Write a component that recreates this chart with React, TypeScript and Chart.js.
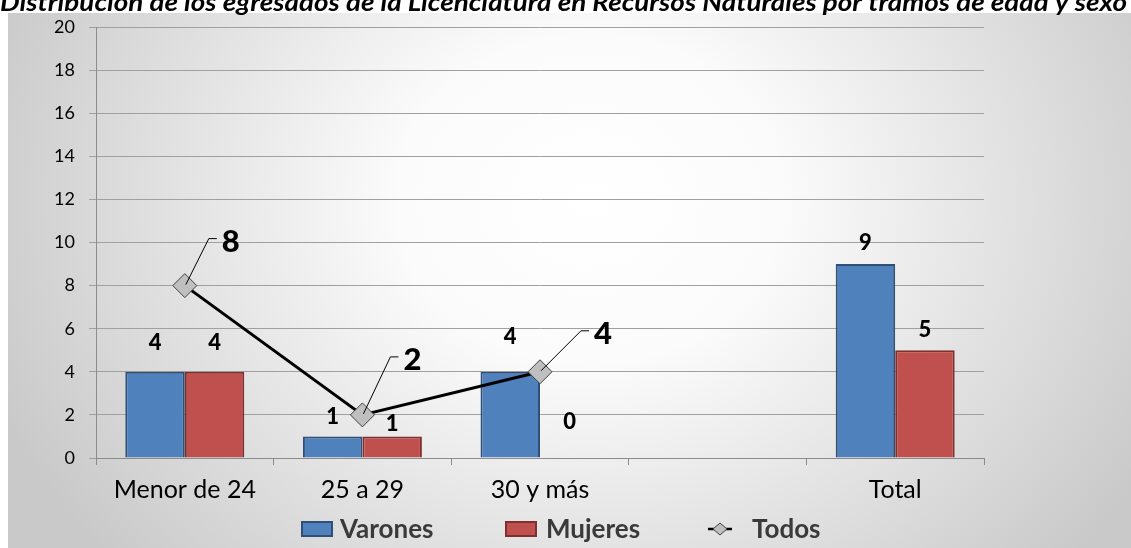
import React, { useEffect, useRef } from "react";
import { Chart, registerables } from "chart.js";

Chart.register(...registerables);

// ---------- data ----------
const chartTitle =
  "Distribución de los egresados de la Licenciatura en Recursos Naturales por tramos de edad y sexo";
const categories = ["Menor de 24", "25 a 29", "30 y más", "", "Total"];
const varones: (number | null)[] = [4, 1, 4, null, 9];
const mujeres: (number | null)[] = [4, 1, 0, null, 5];
const todos: (number | null)[] = [8, 2, 4, null, null];
const seriesNames = ["Varones", "Mujeres", "Todos"];
const yMin = 0;
const yMax = 20;
const yStep = 2;

// ---------- style ----------
const W = 1131;
const H = 548;
const FONT = "Lato, 'Open Sans', sans-serif";
const BLUE = "#4F81BD";
const BLUE_BORDER = "#2F4F77";
const RED = "#C0504D";
const RED_BORDER = "#7F2F2D";
const MARKER_FILL = "#BFBFBF";
const MARKER_BORDER = "#404040";
// label lift above bar tops (px), per category
const varonesLabelLift = [29, 20, 35, 0, 21];
const mujeresLabelLift = [29, 13, 36, 0, 20];
// label offsets for the "Todos" line labels (px from the point)
const todosLabelOffset: [number, number][] = [
  [46, -44],
  [50, -55],
  [63, -38],
];

function drawStretched(
  ctx: CanvasRenderingContext2D,
  text: string,
  x: number,
  y: number,
  sx: number
) {
  ctx.save();
  ctx.translate(x, y);
  ctx.scale(sx, 1);
  ctx.fillText(text, 0, 0);
  ctx.restore();
}

const backgroundPlugin = {
  id: "bgFrame",
  beforeDraw(chart: any) {
    const ctx = chart.ctx as CanvasRenderingContext2D;
    ctx.save();
    ctx.fillStyle = "#FFFFFF";
    ctx.fillRect(0, 0, W, H);
    const fx = 8,
      fy = 13;
    ctx.translate(590, 200);
    ctx.scale(1, 0.85);
    const g = ctx.createRadialGradient(0, 0, 0, 0, 0, 640);
    g.addColorStop(0, "#FFFFFF");
    g.addColorStop(0.3, "#FBFBFB");
    g.addColorStop(1, "#C9C9C9");
    ctx.fillStyle = g;
    ctx.fillRect(fx - 590, (fy - 200) / 0.85, W - fx + 10, (H - fy + 10) / 0.85);
    ctx.restore();

    ctx.save();
    ctx.fillStyle = "#000";
    ctx.font = `italic bold 24px ${FONT}`;
    ctx.textAlign = "left";
    ctx.textBaseline = "alphabetic";
    const w = ctx.measureText(chartTitle).width;
    drawStretched(ctx, chartTitle, 0, 11, 1127 / w);
    ctx.restore();
  },
};

const labelsPlugin = {
  id: "customLabels",
  afterDatasetsDraw(chart: any) {
    const ctx = chart.ctx as CanvasRenderingContext2D;
    ctx.save();
    ctx.fillStyle = "#000";
    ctx.textAlign = "center";
    ctx.textBaseline = "middle";

    // bar labels
    const barSets: [number, (number | null)[], number[]][] = [
      [1, varones, varonesLabelLift],
      [2, mujeres, mujeresLabelLift],
    ];
    ctx.font = `900 22px ${FONT}`;
    barSets.forEach(([dsIndex, values, lift]) => {
      const meta = chart.getDatasetMeta(dsIndex);
      values.forEach((v, i) => {
        if (v === null) return;
        const el = meta.data[i];
        ctx.fillText(String(v), el.x, el.y - lift[i]);
      });
    });

    // line labels with leader lines
    const lineMeta = chart.getDatasetMeta(0);
    todos.forEach((v, i) => {
      if (v === null) return;
      const pt = lineMeta.data[i];
      const [dx, dy] = todosLabelOffset[i];
      const lx = pt.x + dx;
      const ly = pt.y + dy;
      ctx.strokeStyle = "#000";
      ctx.lineWidth = 1;
      ctx.beginPath();
      ctx.moveTo(pt.x + 1, pt.y - 1);
      ctx.lineTo(lx - 22, ly - 3);
      ctx.lineTo(lx - 14, ly - 3);
      ctx.stroke();
      ctx.font = `900 31px ${FONT}`;
      ctx.fillText(String(v), lx, ly);
    });
    ctx.restore();
  },
  afterDraw(chart: any) {
    // legend
    const ctx = chart.ctx as CanvasRenderingContext2D;
    ctx.save();
    const cy = 529;
    ctx.font = `bold 26px ${FONT}`;
    ctx.textBaseline = "middle";
    ctx.textAlign = "left";
    // Varones
    ctx.fillStyle = BLUE;
    ctx.fillRect(302, cy - 7, 30, 14);
    ctx.strokeStyle = BLUE_BORDER;
    ctx.lineWidth = 2;
    ctx.strokeRect(302, cy - 7, 30, 14);
    ctx.fillStyle = "#3A3A3A";
    ctx.fillText(seriesNames[0], 340, cy + 1);
    // Mujeres
    ctx.fillStyle = RED;
    ctx.fillRect(506, cy - 7, 30, 14);
    ctx.strokeStyle = RED_BORDER;
    ctx.strokeRect(506, cy - 7, 30, 14);
    ctx.fillStyle = "#3A3A3A";
    ctx.fillText(seriesNames[1], 546, cy + 1);
    // Todos
    ctx.strokeStyle = "#000";
    ctx.lineWidth = 2.5;
    ctx.beginPath();
    ctx.moveTo(708, cy);
    ctx.lineTo(732, cy);
    ctx.stroke();
    ctx.beginPath();
    ctx.moveTo(720, cy - 6);
    ctx.lineTo(727, cy);
    ctx.lineTo(720, cy + 6);
    ctx.lineTo(713, cy);
    ctx.closePath();
    ctx.fillStyle = MARKER_FILL;
    ctx.fill();
    ctx.strokeStyle = MARKER_BORDER;
    ctx.lineWidth = 1;
    ctx.stroke();
    ctx.fillStyle = "#3A3A3A";
    ctx.fillText(seriesNames[2], 752, cy + 1);
    ctx.restore();
  },
};

export default function App() {
  const ref = useRef<HTMLCanvasElement>(null);

  useEffect(() => {
    document.body.style.margin = "0";
    const canvas = ref.current;
    if (!canvas) return;
    const chart = new Chart(canvas, {
      type: "bar",
      data: {
        labels: categories,
        datasets: [
          {
            type: "line",
            label: seriesNames[2],
            data: todos,
            borderColor: "#000000",
            borderWidth: 3,
            pointStyle: "rectRot",
            pointRadius: 12,
            pointHoverRadius: 12,
            pointBackgroundColor: MARKER_FILL,
            pointBorderColor: MARKER_BORDER,
            pointBorderWidth: 1,
            spanGaps: false,
            order: 0,
          } as any,
          {
            type: "bar",
            label: seriesNames[0],
            data: varones,
            backgroundColor: BLUE,
            borderColor: BLUE_BORDER,
            borderWidth: 2,
            order: 1,
          },
          {
            type: "bar",
            label: seriesNames[1],
            data: mujeres,
            backgroundColor: RED,
            borderColor: RED_BORDER,
            borderWidth: 2,
            order: 1,
          },
        ],
      },
      options: {
        responsive: false,
        animation: false,
        events: [],
        layout: { padding: { top: 27, right: 147, bottom: 40, left: 0 } },
        datasets: {
          bar: { categoryPercentage: 0.67, barPercentage: 1.0 },
        } as any,
        plugins: {
          legend: { display: false },
          title: { display: false },
          tooltip: { enabled: false },
        },
        scales: {
          x: {
            grid: {
              offset: true,
              drawOnChartArea: false,
              drawTicks: true,
              tickLength: 7,
              color: "#8C8C8C",
            },
            border: { display: true, color: "#8C8C8C" },
            ticks: {
              font: { family: FONT, size: 25 },
              color: "#000",
              padding: 10,
            },
            afterFit: (s: any) => {
              s.height = 50;
            },
          },
          y: {
            min: yMin,
            max: yMax,
            ticks: {
              stepSize: yStep,
              font: { family: FONT, size: 18 },
              color: "#000",
              padding: 14,
            },
            grid: { color: "#A0A0A0", tickLength: 7, lineWidth: 1 },
            border: { display: true, color: "#8C8C8C" },
            afterFit: (s: any) => {
              s.width = 96;
            },
          },
        },
      },
      plugins: [backgroundPlugin, labelsPlugin],
    });
    return () => chart.destroy();
  }, []);

  return (
    <canvas
      ref={ref}
      width={W}
      height={H}
      style={{ display: "block", width: W, height: H }}
    />
  );
}
